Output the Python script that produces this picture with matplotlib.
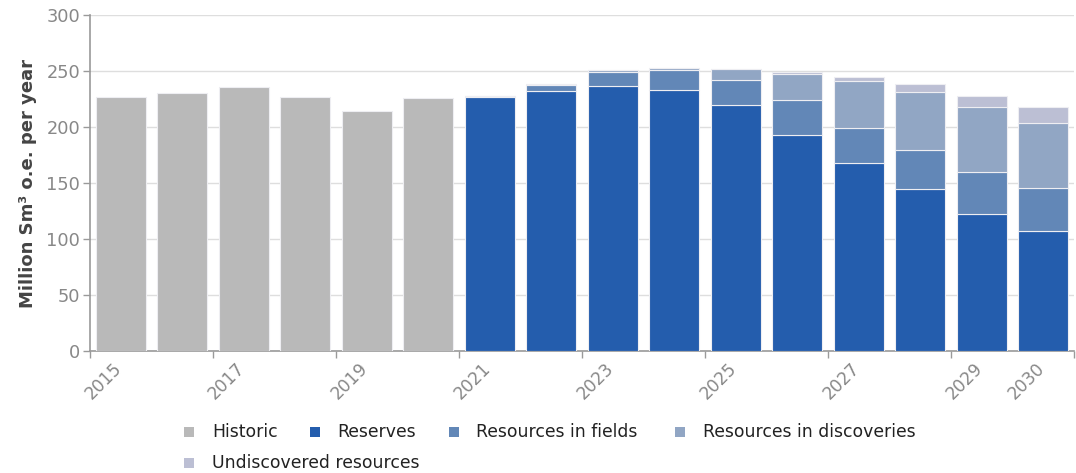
import matplotlib
matplotlib.use("Agg")
import matplotlib.pyplot as plt
import matplotlib.transforms as mtransforms
from matplotlib.patches import Rectangle
import numpy as np

# ---- data ----
hist_years = [2015, 2016, 2017, 2018, 2019, 2020]
historic = [227, 230, 236, 227, 214, 226]

fc_years = [2021, 2022, 2023, 2024, 2025, 2026, 2027, 2028, 2029, 2030]
reserves = [226.5, 232, 237, 233, 220, 193, 167.5, 144.5, 122, 107]
res_fields = [0.8, 5.5, 12, 17.5, 22, 31, 32, 35, 38, 38.5]
res_discoveries = [0, 0.5, 1.5, 2, 9.5, 23, 42, 51.5, 57.5, 58.5]
undiscovered = [0, 0.2, 0.5, 0.5, 0.5, 2, 3.5, 7, 10, 14]

tick_years = [2015, 2017, 2019, 2021, 2023, 2025, 2027, 2029, 2030]
tick_labels = ["2015", "2017", "2019", "2021", "2023", "2025", "2027", "2029", "2030"]

series_names = ["Historic", "Reserves", "Resources in fields",
                "Resources in discoveries", "Undiscovered resources"]
colors = ["#b9b9b9", "#245dad", "#6287b7", "#91a6c4", "#bcbfd4"]

# ---- figure ----
W, H = 1076, 473
fig = plt.figure(figsize=(W / 100, H / 100), dpi=100)
ax = fig.add_axes([90 / W, 1 - 351 / H, (1074 - 90) / W, (351 - 15) / H])

start = 2015
bw = 0.82
edge = dict(edgecolor="#eeeef2", linewidth=0.8)

hx = np.array(hist_years) - start + 0.5
ax.bar(hx, historic, width=bw, color=colors[0], **edge, zorder=3)

fx = np.array(fc_years) - start + 0.5
bottom = np.zeros(len(fc_years))
for vals, c in zip([reserves, res_fields, res_discoveries, undiscovered], colors[1:]):
    v = np.array(vals, dtype=float)
    ax.bar(fx, v, width=bw, bottom=bottom, color=c, **edge, zorder=3)
    bottom += v

ax.set_xlim(0, 16)
ax.set_ylim(0, 300)
ax.set_yticks(np.arange(0, 301, 50))
ax.grid(axis="y", color="#dedede", linewidth=1, zorder=0)
ax.set_axisbelow(True)

for s in ["top", "right"]:
    ax.spines[s].set_visible(False)
for s in ["left", "bottom"]:
    ax.spines[s].set_color("#9a9a9a")
    ax.spines[s].set_linewidth(1.2)

ax.tick_params(axis="y", colors="#9a9a9a", labelcolor="#888888", labelsize=12.8,
               length=5, width=1, pad=2)
tpos = [y - start for y in tick_years]
ax.set_xticks(tpos)
ax.set_xticklabels(tick_labels, rotation=45, ha="center", va="top",
                   fontsize=12.3, color="#888888")
ax.tick_params(axis="x", colors="#9a9a9a", labelcolor="#888888", length=5, width=1, pad=1)
ax.set_xticks([16], minor=True)
ax.tick_params(axis="x", which="minor", length=5, width=1, colors="#9a9a9a")
# hide tick mark of the last label (2030)
ax.xaxis.get_major_ticks()[-1].tick1line.set_visible(False)
off = mtransforms.ScaledTranslation(14 / 100, 0, fig.dpi_scale_trans)
for lab in ax.get_xticklabels():
    lab.set_transform(lab.get_transform() + off)

fig.text(28 / W, 1 - 183 / H, "Million Sm³ o.e. per year", rotation=90,
         ha="center", va="center", fontsize=13, fontweight="bold", color="#444444")

# ---- legend (manual) ----
legend_items = [
    (series_names[0], colors[0], 184, 212, 432),
    (series_names[1], colors[1], 310, 337, 432),
    (series_names[2], colors[2], 449, 476, 432),
    (series_names[3], colors[3], 675, 703, 432),
    (series_names[4], colors[4], 184, 212, 463),
]
for name, c, mx, tx, yc in legend_items:
    fig.patches.append(Rectangle((mx / W, 1 - (yc + 5) / H), 10 / W, 10 / H,
                                 transform=fig.transFigure, facecolor=c,
                                 edgecolor="none"))
    fig.text(tx / W, 1 - yc / H, name, ha="left", va="center",
             fontsize=12.4, color="#222222")

fig.savefig("out.png", dpi=100)
